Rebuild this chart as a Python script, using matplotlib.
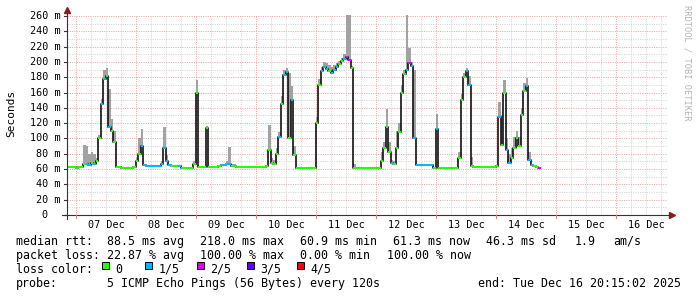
import numpy as np
import matplotlib
matplotlib.use("Agg")
import matplotlib.pyplot as plt
from matplotlib.patches import Rectangle
from datetime import datetime

# ---------------- data (hourly samples from the start of the window) ----------------
start = datetime(2025, 12, 6, 20, 15, 2)
end = datetime(2025, 12, 16, 20, 15, 2)

median_ms = [
    63, 63, 63, 63, 62, 63, 63,
    66, 67, 65, 68, 66, 70,
    100, 145, 178, 182, 115, 110, 96,
    63, 63, 62, 62, 62, 62, 62, 63,
    70, 80, 90,
    65, 64, 64, 64, 64, 64, 64,
    66, 88, 70,
    65, 64, 64, 64, 64, 62,
    62, 62, 62, 62,
    66, 160, 63,
    63, 63,
    114,
    63, 63, 63, 63,
    64, 65, 65, 66, 66, 64, 64,
    63, 63, 63, 63, 63, 63, 63, 63, 63, 63, 63, 63,
    64, 85, 68, 66, 80, 102, 145, 183, 187, 100, 150, 78,
    62, 62, 62, 62, 62, 62, 62, 62,
    120, 170, 188, 194, 191, 188, 186, 190, 193, 197, 201, 204, 206, 203, 192,
    62, 62, 62, 62, 62, 61, 61, 61, 61, 61, 62,
    70, 88, 115, 82, 68, 66,
    88, 108, 160, 184, 190, 199, 195, 100,
    65, 65, 65, 65, 65, 65, 65,
    61, 112, 62,
    62, 62, 62, 62, 62, 62, 62,
    75, 150, 180, 188, 170, 64,
    63, 63, 63, 63, 63, 63, 63, 63, 63, 64,
    128, 92, 160, 85, 68, 75, 88, 100, 90, 130, 162, 168, 72, 65, 64, 63, 62,
]

loss_count = [
    0, 0, 0, 0, 0, 0, 0,
    0, 1, 1, 0, 1, 0,
    0, 1, 1, 0, 1, 0, 0,
    0, 0, 0, 0, 0, 0, 0, 0,
    0, 0, 1,
    1, 1, 1, 1, 1, 1, 1,
    1, 1, 1,
    1, 0, 0, 0, 1, 0,
    0, 0, 0, 0,
    0, 0, 0,
    0, 0,
    0,
    0, 0, 0, 0,
    0, 1, 1, 1, 1, 0, 0,
    0, 0, 0, 0, 0, 0, 0, 0, 0, 0, 0, 0,
    0, 0, 0, 0, 0, 1, 0, 1, 1, 0, 1, 0,
    0, 0, 0, 0, 0, 0, 0, 0,
    0, 0, 1, 1, 1, 0, 1, 1, 1, 0, 0, 1, 2, 2, 0,
    0, 0, 0, 0, 0, 0, 0, 0, 0, 0, 0,
    0, 0, 0, 0, 1, 0,
    0, 0, 0, 0, 1, 2, 1, 1,
    1, 1, 1, 1, 1, 1, 1,
    0, 1, 0,
    0, 0, 0, 0, 0, 0, 0,
    0, 0, 0, 1, 1, 0,
    0, 0, 0, 0, 0, 0, 0, 0, 0, 0,
    1, 0, 0, 1, 1, 0, 0, 0, 0, 0, 0, 1, 1, 1, 0, 0, 2,
]

smoke_hi_ms = [
    64, 64, 64, 64, 63, 64, 64,
    92, 90, 80, 82, 80, 75,
    105, 152, 190, 192, 165, 125, 110,
    64, 64, 63, 63, 63, 63, 63, 64,
    75, 100, 112,
    66, 65, 65, 65, 65, 65, 65,
    70, 115, 78,
    66, 65, 65, 65, 65, 63,
    63, 63, 63, 63,
    70, 176, 64,
    64, 64,
    116,
    64, 64, 64, 64,
    65, 66, 66, 70, 89, 67, 67,
    64, 64, 64, 64, 64, 64, 64, 64, 64, 64, 64, 64,
    65, 117, 75, 72, 88, 108, 155, 190, 192, 185, 168, 90,
    63, 63, 63, 63, 63, 63, 63, 63,
    128, 178, 194, 200, 198, 196, 194, 196, 198, 201, 205, 210, 262, 262, 195,
    66, 63, 63, 63, 63, 62, 62, 62, 62, 62, 63,
    82, 95, 138, 95, 72, 70,
    110, 120, 170, 190, 262, 218, 200, 190,
    66, 66, 66, 66, 66, 66, 66,
    62, 132, 63,
    63, 63, 63, 63, 63, 63, 63,
    82, 158, 186, 192, 182, 76,
    64, 64, 64, 64, 64, 64, 64, 64, 64, 64,
    148, 130, 176, 100, 80, 88, 102, 110, 102, 140, 172, 179, 82, 66, 65, 64, 63,
]

assert len(median_ms) == len(loss_count) == len(smoke_hi_ms)

y_ticks = [0, 20, 40, 60, 80, 100, 120, 140, 160, 180, 200, 220, 240, 260]
day_labels = ["07 Dec", "08 Dec", "09 Dec", "10 Dec", "11 Dec",
              "12 Dec", "13 Dec", "14 Dec", "15 Dec", "16 Dec"]
loss_labels = ["0", "1/5", "2/5", "3/5", "4/5"]
loss_colors = ["#26ff00", "#00b8ff", "#dd00ff", "#5e00ff", "#ff0000"]

rtt_stats = ["88.5 ms avg", "218.0 ms max", "60.9 ms min", "61.3 ms now", "46.3 ms sd", "1.9", "am/s"]
loss_stats = ["22.87 % avg", "100.00 % max", "0.00 % min", "100.00 % now"]
probe_text = "5 ICMP Echo Pings (56 Bytes) every 120s"
end_text = "end: Tue Dec 16 20:15:02 2025"

# ---------------- figure ----------------
W, H = 697, 297
fig = plt.figure(figsize=(W / 100, H / 100), dpi=100)
fig.patch.set_facecolor("white")
MONO = "DejaVu Sans Mono"

def fx(px):
    return px / W

def fy(py):
    return 1 - py / H

ax = fig.add_axes([fx(67), fy(215), 600 / W, 200 / H])
ax.set_facecolor("white")
total_h = (end - start).total_seconds() / 3600.0
ax.set_xlim(0, total_h)
ax.set_ylim(0, 261.3)
for s in ax.spines.values():
    s.set_visible(False)
ax.set_xticks([])
ax.set_yticks([])

minor_c = "#d2d2d2"
major_c = "#eaa4a4"
dot = (0, (1, 1.3))

# horizontal grid
for v in range(10, 261, 10):
    c = major_c if v % 20 == 0 else minor_c
    ax.axhline(v, color=c, lw=0.72, ls=dot, zorder=0)

# vertical grid
midnights = [(datetime(2025, 12, d) - start).total_seconds() / 3600 for d in range(7, 17)]
first = midnights[0]
k = -1
while True:
    h = first + 6 * k
    if h > total_h:
        break
    if h > 0:
        is_major = (k % 4 == 0)
        ax.axvline(h, color=major_c if is_major else minor_c, lw=0.72, ls=dot, zorder=0)
    k += 1

# data
hrs = np.arange(len(median_ms), dtype=float)
med = np.array(median_ms, dtype=float)
hi = np.array(smoke_hi_ms, dtype=float)

ax.fill_between(hrs, med, hi, step="mid", color="#a2a2a2", lw=0, zorder=2)
ax.plot(hrs, med, drawstyle="steps-mid", color="#111111", lw=1.2, zorder=3)
ax.hlines(med, hrs - 0.5, hrs + 0.5,
          colors=[loss_colors[l] for l in loss_count], lw=1.5, zorder=4)

# axes lines with arrows
px_per_h = 600 / total_h
px_per_ms = 200 / 261.3
ax.plot([-5 / px_per_h, total_h + 3 / px_per_h], [0, 0], color="#333333", lw=0.8,
        clip_on=False, zorder=5)
ax.plot([0, 0], [-4 / px_per_ms, 261.3 + 3 / px_per_ms], color="#333333", lw=0.8,
        clip_on=False, zorder=5)
ax.plot([total_h + 5 / px_per_h], [0], marker=">", ms=4, color="#8b1a1a",
        clip_on=False, zorder=6, mec="#8b1a1a")
ax.plot([0], [261.3 + 5 / px_per_ms], marker="^", ms=4, color="#8b1a1a",
        clip_on=False, zorder=6, mec="#8b1a1a")

# y ticks and labels
ytr = ax.get_yaxis_transform()
for v in y_ticks:
    ax.plot([-3.5 / px_per_h, 0], [v, v], color="#333333", lw=0.8, clip_on=False, zorder=5)
    if v == 0:
        ax.text(-20 / 600, v, "0", transform=ytr, ha="right", va="center",
                fontsize=7.3, family=MONO)
    else:
        ax.text(-6 / 600, v, f"{v} m", transform=ytr, ha="right", va="center",
                fontsize=7.3, family=MONO)

# x ticks and labels
xtr = ax.get_xaxis_transform()
for m in midnights:
    ax.plot([m, m], [0, -3 / px_per_ms], color="#cc8888", lw=0.8, clip_on=False, zorder=5)
for m, lab in zip(midnights, day_labels):
    ax.text(m + 12, -13.5 / 200, lab, transform=xtr, ha="center", va="baseline",
            fontsize=7.3, family=MONO)

# y label
fig.text(fx(11), fy(113.5), "Seconds", rotation=90, ha="center", va="center",
         fontsize=8, family=MONO)

# watermark
fig.text(fx(687), fy(5), "RRDTOOL / TOBI OETIKER", rotation=270, ha="center", va="top",
         fontsize=6.2, family=MONO, color="#b4b4b4")

# legend
LF = 8.4
def put(x, ybase, s):
    fig.text(fx(x), fy(ybase), s, ha="left", va="baseline", fontsize=LF, family=MONO)

put(16, 245, "median rtt:")
for s, x in zip(rtt_stats, [107.3, 200, 300, 392.7, 486, 574.3, 613.3]):
    put(x, 245, s)

put(16, 259, "packet loss:")
for s, x in zip(loss_stats, [107.3, 200, 300, 386.7]):
    put(x, 259, s)

put(16, 273, "loss color:")
for lab, col, x in zip(loss_labels, loss_colors, [101.5, 145, 196.5, 246.5, 296.5]):
    fig.patches.append(Rectangle((fx(x), fy(269)), 7 / W, 7 / H, transform=fig.transFigure,
                                 facecolor=col, edgecolor="black", lw=0.7))
    put(x + 14, 273, lab)

put(16, 287, "probe:")
put(107.3, 287, probe_text)
put(478.3, 287, end_text)

fig.savefig("out.png", dpi=100, facecolor="white")
